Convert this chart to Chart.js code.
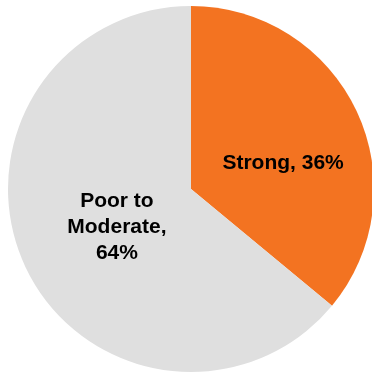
<!DOCTYPE html>
<html>
<head>
<meta charset="utf-8">
<script src="https://cdn.jsdelivr.net/npm/chart.js@4"></script>
<style>
  html, body { margin: 0; padding: 0; background: #fff; overflow: hidden; }
  #wrap { position: absolute; left: 0; top: 0; width: 382px; height: 373px; }
</style>
</head>
<body>
<div id="wrap"><canvas id="pieChart" width="382" height="373"></canvas></div>
<script>
// Chart data
const categories = ["Strong", "Poor to Moderate"];
const values = [36, 64];
const sliceColors = ["#F37321", "#DFDFDF"];
// text lines drawn on each slice
const sliceLabels = [["Strong, 36%"], ["Poor to", "Moderate,", "64%"]];

// draws the text labels in each slice, nudged a little like the original
const labelNudge = [[6, 15], [12, -2]];
const sliceLabelPlugin = {
    id: "sliceLabels",
    afterDatasetsDraw(chart) {
        const ctx = chart.ctx;
        const meta = chart.getDatasetMeta(0);
        ctx.save();
        ctx.fillStyle = "#000";
        ctx.font = "bold 21px 'Liberation Sans', Arial, sans-serif";
        ctx.textAlign = "center";
        ctx.textBaseline = "middle";
        const lineH = 26;
        meta.data.forEach((arc, i) => {
            const mid = (arc.startAngle + arc.endAngle) / 2;
            const r = arc.outerRadius * 0.52;
            const x = arc.x + Math.cos(mid) * r + labelNudge[i][0];
            const y = arc.y + Math.sin(mid) * r + labelNudge[i][1];
            const lines = sliceLabels[i];
            lines.forEach((line, j) => {
                ctx.fillText(line, x, y + (j - (lines.length - 1) / 2) * lineH);
            });
        });
        ctx.restore();
    }
};

const ctx = document.getElementById("pieChart").getContext("2d");
new Chart(ctx, {
    type: "pie",
    data: {
        labels: categories,
        datasets: [{
            data: values,
            backgroundColor: sliceColors,
            borderWidth: 0
        }]
    },
    options: {
        responsive: false,
        animation: false,
        layout: { padding: { top: 6, bottom: 1, left: 0, right: 0 } },
        plugins: {
            legend: { display: false },
            tooltip: { enabled: false }
        }
    },
    plugins: [sliceLabelPlugin]
});
</script>
</body>
</html>
